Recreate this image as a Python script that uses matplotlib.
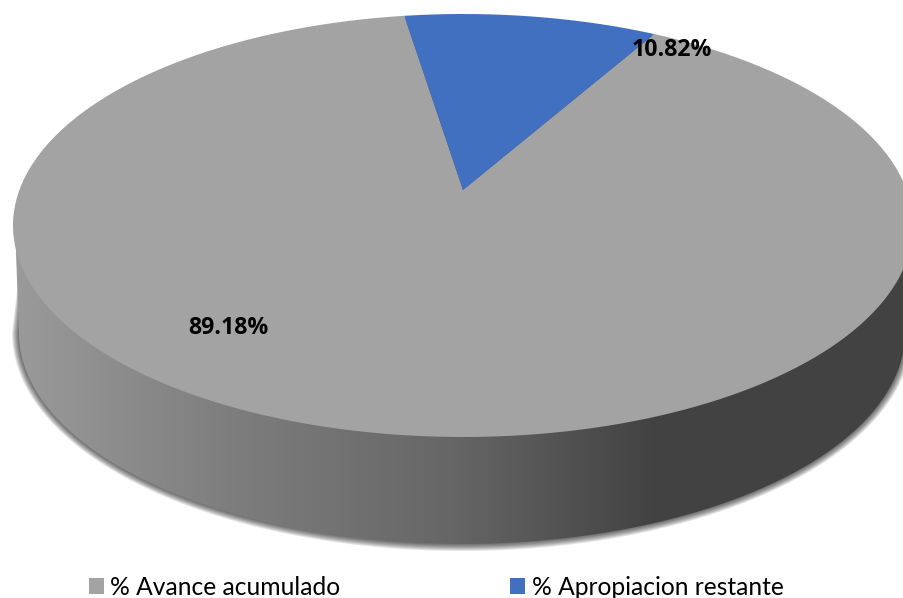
import numpy as np
import matplotlib
matplotlib.use("Agg")
import matplotlib.pyplot as plt
from matplotlib.patches import Polygon, Patch
from matplotlib.path import Path
from matplotlib.colors import LinearSegmentedColormap

categories = ["% Avance acumulado", "% Apropiacion restante"]
values = [89.18, 10.82]
colors = ["#A3A3A3", "#4170C0"]
start_angle = 99.0

W, H = 904, 598
APEX = (463, 190)
SQ = 0.47
plt.rcParams["font.family"] = ["Lato", "DejaVu Sans"]

def px(x, y):
    return (np.asarray(x, float) - APEX[0], (APEX[1] - np.asarray(y, float)) / SQ)

fig = plt.figure(figsize=(W / 100, H / 100), dpi=100, facecolor="white")
ax = fig.add_axes([0, 0, 1, 1])

TOP = dict(cx=463, cy=225.5, rx=450, ry=211.5)
LOW = dict(cx=462, cy=333, rx=443, ry=211)

def ellipse_pts(e, t, grow=0.0):
    return e["cx"] + (e["rx"] + grow) * np.cos(t), e["cy"] + (e["ry"] + grow) * np.sin(t)

def side_outline(grow=0.0, top_grow=0.0):
    # lower half of the lower ellipse, then upper half of the top ellipse (pixels, y down)
    xl, yl = ellipse_pts(LOW, np.linspace(0, np.pi, 200), grow)
    xt, yt = ellipse_pts(TOP, np.linspace(np.pi, 2 * np.pi, 200), top_grow)
    X, Y = px(np.r_[xl, xt], np.r_[yl, yt])
    return np.c_[X, Y]

# soft shadow under the disc, kept inside the top ellipse on its upper side
for g in [7, 6, 5, 4, 3, 2, 1]:
    ax.add_patch(Polygon(side_outline(g, -12), closed=True, fc="black", ec="none",
                         alpha=0.1, zorder=1))

# side wall with horizontal gradient
stops = [(0.0, "#9C9C9C"), (0.25, "#7E7E7E"), (0.5, "#666666"), (0.72, "#434343"), (1.0, "#424242")]
cmap = LinearSegmentedColormap.from_list("side", stops)
x0, x1 = px(0, 0)[0], px(W, 0)[0]
y0, y1 = px(0, H)[1], px(0, 0)[1]
grad = np.linspace(0, 1, 904).reshape(1, -1)
im = ax.imshow(grad, extent=(x0, x1, y0, y1), cmap=cmap, aspect="auto", zorder=2)
im.set_clip_path(Path(side_outline(0, -2)), transform=ax.transData)

# top face: pie drawn about the apex, clipped to the perspective ellipse
wedges, _, autotexts = ax.pie(values, colors=colors, startangle=start_angle, radius=1000,
                              center=(0, 0), autopct="%.2f%%",
                              wedgeprops=dict(linewidth=0, zorder=3),
                              textprops=dict(fontsize=16.7, fontweight="bold", color="black",
                                             family=["Open Sans", "DejaVu Sans"], zorder=5))
tx, ty = ellipse_pts(TOP, np.linspace(0, 2 * np.pi, 400))
clip_path = Path(np.c_[px(tx, ty)])
for w in wedges:
    w.set_clip_on(True)
    w.set_clip_path(clip_path, transform=ax.transData)
for t, pos in zip(autotexts, [(228, 328), (672, 50)]):
    t.set_position(px(*pos))
    t.set_ha("center")
    t.set_va("center")

ax.set_aspect("auto")
ax.set_xlim(x0, x1)
ax.set_ylim(y0, y1)
ax.axis("off")

handles = [Patch(fc=c, ec="none") for c in colors]
leg = ax.legend(handles, categories, loc="lower left", bbox_to_anchor=(89 / W, -1 / H), ncol=2,
                frameon=False, fontsize=17.7, handlelength=0.62, handleheight=0.62,
                handletextpad=0.25, columnspacing=6.9, borderpad=0, borderaxespad=0)
fig.savefig("out.png", dpi=100)
